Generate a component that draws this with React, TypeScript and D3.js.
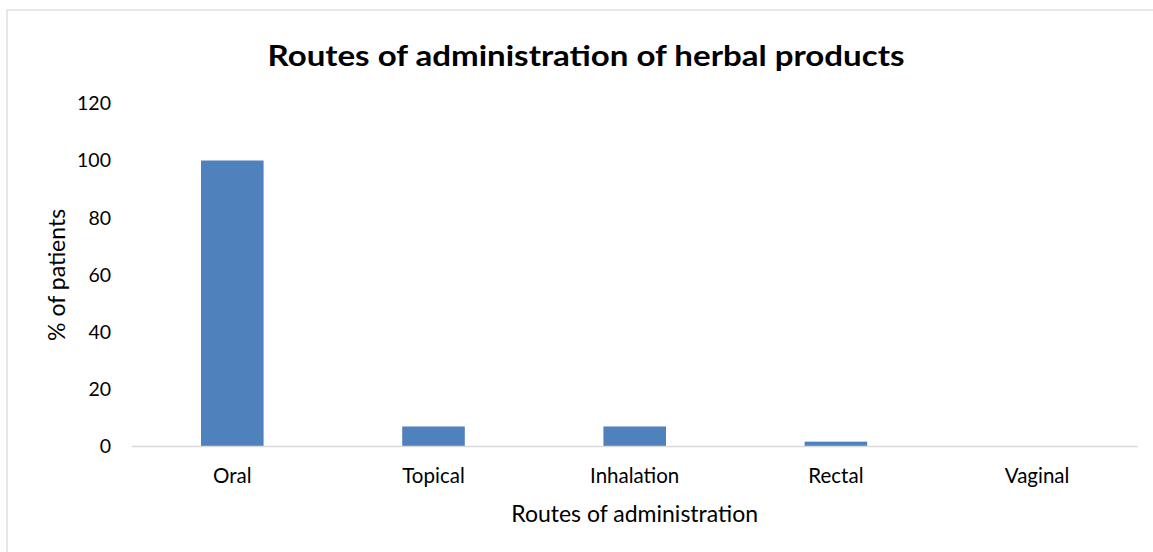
import React from "react";
import * as d3 from "d3";

const categories: string[] = ["Oral", "Topical", "Inhalation", "Rectal", "Vaginal"];
const values: number[] = [100, 7, 7, 1.7, 0];
const yTicks: number[] = [0, 20, 40, 60, 80, 100, 120];
const title = "Routes of administration of herbal products";
const xTitle = "Routes of administration";
const yTitle = "% of patients";

const W = 1153;
const H = 552;
const plot = { left: 131.7, right: 1137.7, top: 103.3, bottom: 446.5 };
const FONT = "Lato, 'Open Sans', sans-serif";

export default function App() {
  const x = d3
    .scaleBand<string>()
    .domain(categories)
    .range([plot.left, plot.right])
    .paddingInner(0.689)
    .paddingOuter(0.3445);
  const y = d3.scaleLinear().domain([0, 120]).range([plot.bottom, plot.top]);

  return (
    <svg
      width={W}
      height={H}
      style={{ position: "absolute", left: 0, top: 0, background: "#fff" }}
      fontFamily={FONT}
    >
      <rect x={0} y={0} width={W} height={H} fill="#fff" />
      <rect x={7} y={10} width={W + 20} height={H + 20} fill="none" stroke="#d9d9d9" strokeWidth={1.2} />
      <text
        x={586}
        y={66}
        textAnchor="middle"
        fontSize={28}
        fontWeight="bold"
        fill="#000"
        textLength={637}
        lengthAdjust="spacingAndGlyphs"
      >
        {title}
      </text>
      {values.map((v, i) => (
        <rect
          key={categories[i]}
          x={x(categories[i])}
          y={y(v)}
          width={x.bandwidth()}
          height={y(0) - y(v)}
          fill="#4f81bd"
        />
      ))}
      <line x1={plot.left} x2={plot.right} y1={y(0)} y2={y(0)} stroke="#d9d9d9" strokeWidth={1.5} />
      {yTicks.map((t) => (
        <text key={t} x={111} y={y(t)} dy="0.35em" textAnchor="end" fontSize={19.5} fill="#000">
          {t}
        </text>
      ))}
      {categories.map((c) => (
        <text
          key={c}
          x={(x(c) as number) + x.bandwidth() / 2}
          y={476}
          dy="0.35em"
          textAnchor="middle"
          fontSize={20.5}
          fill="#000"
        >
          {c}
        </text>
      ))}
      <text
        x={(plot.left + plot.right) / 2}
        y={514}
        dy="0.35em"
        textAnchor="middle"
        fontSize={23}
        fill="#000"
      >
        {xTitle}
      </text>
      <text
        transform={`translate(57, ${(plot.top + plot.bottom) / 2}) rotate(-90)`}
        dy="0.35em"
        textAnchor="middle"
        fontSize={23}
        fill="#000"
      >
        {yTitle}
      </text>
    </svg>
  );
}
